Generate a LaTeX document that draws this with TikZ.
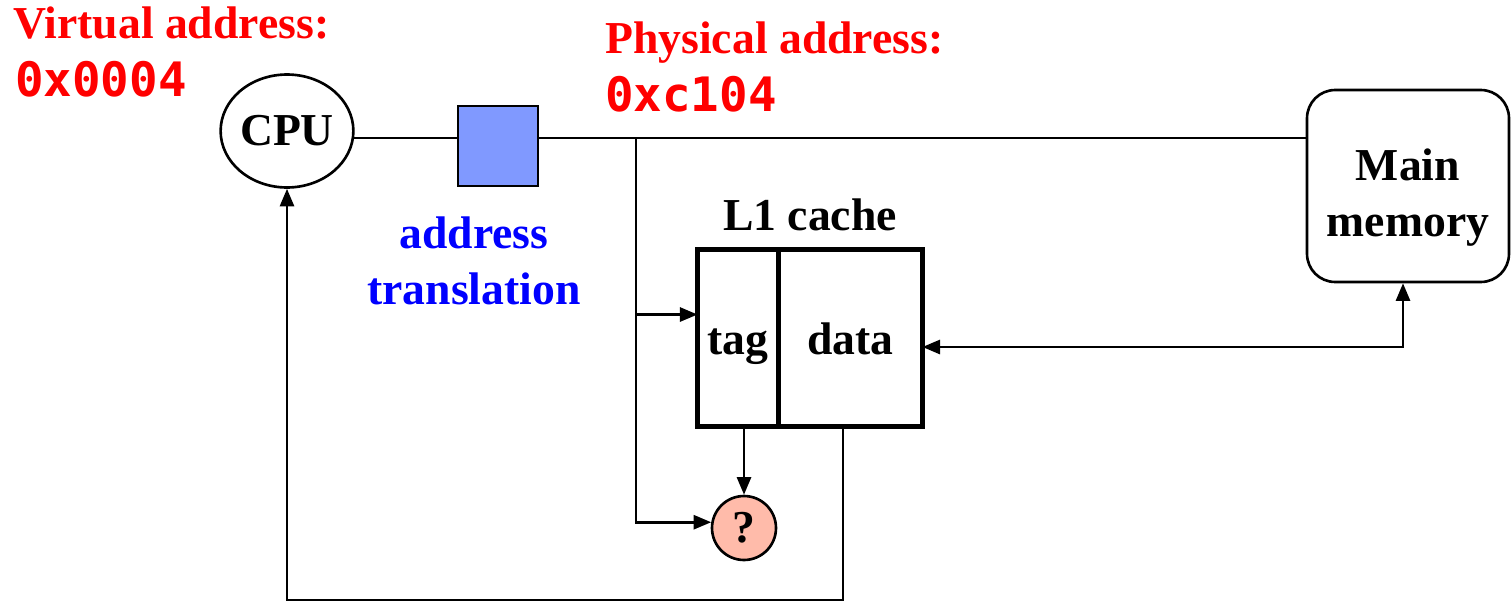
\documentclass[tikz,border=0pt]{standalone}
\usepackage{fontspec}
\setmainfont{Liberation Serif}
\newfontfamily\hexfont{DejaVu Sans Mono}
\usepackage{xcolor}
\definecolor{addrred}{HTML}{FF0000}
\definecolor{xlateblue}{HTML}{0000FF}
\definecolor{tlbfill}{HTML}{8099FF}
\definecolor{cmpfill}{HTML}{FFBBAA}
\usetikzlibrary{arrows.meta, shapes.geometric, positioning, calc}

\begin{document}
\begin{tikzpicture}[x=0.02cm, y=-0.02cm, line width=1.5pt,
    >={Triangle[length=10pt, width=8pt]},
    bold/.style={font=\bfseries\fontsize{26}{32}\selectfont},
    redtitle/.style={anchor=base west, inner sep=0pt, text=addrred,
                     font=\bfseries\fontsize{26}{30}\selectfont},
    redhex/.style={anchor=base west, inner sep=0pt, text=addrred,
                   font=\hexfont\bfseries\fontsize{27}{30}\selectfont},
    cachebox/.style={draw, line width=2.4pt, outer sep=0pt, minimum height=3.54cm,
                     text height=24pt, text depth=5pt, bold}]

  \useasboundingbox (0,0) rectangle (1511,602);

  % labels
  \node[redtitle] (vtitle) at (12,38) {Virtual address:};
  \node[redtitle] (ptitle) at (604,53) {Physical address:};
  \node[redhex] (vhex) at (14,96) {0x0004};
  \node[redhex] (phex) at (604,111) {0xc104};

  % units
  \node[ellipse, draw, minimum width=2.58cm, minimum height=2.26cm, inner sep=0pt, bold]
        (cpu) at (287,131) {CPU};
  \node[draw, fill=tlbfill, minimum size=1.6cm] (tlb) at (498,146) {};
  \node[draw, rounded corners=16pt, minimum width=4.04cm, minimum height=3.84cm,
        align=center, bold] (mem) at (1408,186) {\rule{0pt}{31pt}Main\\memory};

  \node[cachebox, minimum width=1.62cm] (tag) at (738,338) {tag};
  \node[cachebox, minimum width=2.88cm, right=0pt of tag] (data) {data};
  \node[bold, above=0.22cm of $(tag.north west)!0.5!(data.north east)$] (l1) {L1 cache};
  \node[circle, draw, fill=cmpfill, minimum size=1.28cm, inner sep=0pt, bold] (cmp) at (744,528) {?};

  \node[bold, text=xlateblue, align=center, below=0.45cm of tlb, xshift=-0.48cm] (xlate)
        {address\\translation};

  % wires
  \coordinate (bus) at (0,138);
  \coordinate (tap) at (636,138);
  \coordinate (tagin) at ($(tag.north west)+(0,65)$);
  \coordinate (ret) at (843,600);

  \draw ([xshift=-1pt]cpu.east |- bus) -- (tlb.west |- bus);
  \draw (tlb.east |- bus) -- (mem.west |- bus);
  \draw[->] (tap) |- (cmp.170);
  \draw[->] (tap |- tagin) -- (tagin);
  \draw[->] (tag.south -| cmp) -- (cmp.north);
  \draw[->] (data.south -| ret) -- (ret) -| (cpu.south);
  \draw[<->] ($(data.east)+(0,9)$) -| ([xshift=-0.1cm]mem.south);

\end{tikzpicture}
\end{document}
